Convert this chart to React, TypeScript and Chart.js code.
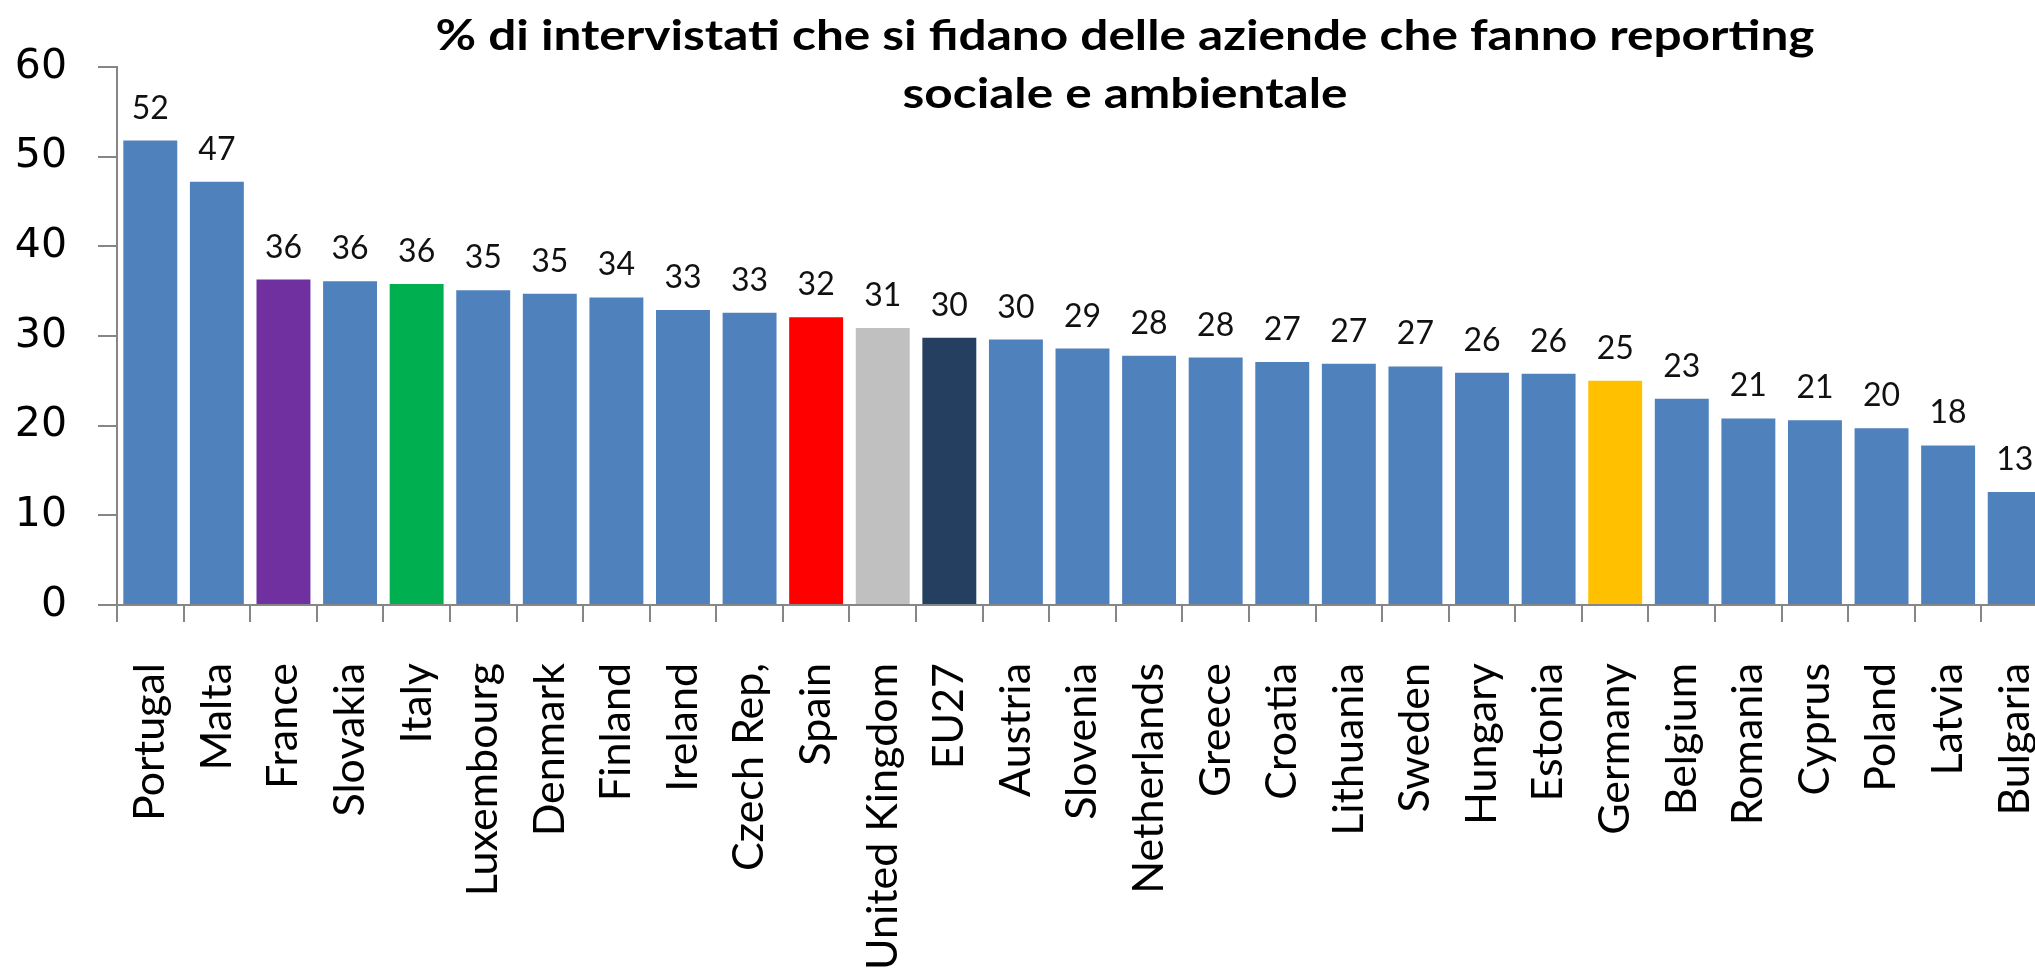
import React, { useEffect, useRef } from "react";
import { Chart, registerables } from "chart.js";

Chart.register(...registerables);

const categories = [
  "Portugal", "Malta", "France", "Slovakia", "Italy", "Luxembourg", "Denmark",
  "Finland", "Ireland", "Czech Rep,", "Spain", "United Kingdom", "EU27", "Austria",
  "Slovenia", "Netherlands", "Greece", "Croatia", "Lithuania", "Sweden", "Hungary",
  "Estonia", "Germany", "Belgium", "Romania", "Cyprus", "Poland", "Latvia", "Bulgaria",
];

const values = [
  51.8, 47.2, 36.3, 36.1, 35.8, 35.1, 34.7, 34.3, 32.9, 32.6, 32.1, 30.9, 29.8, 29.6,
  28.6, 27.8, 27.6, 27.1, 26.9, 26.6, 25.9, 25.8, 25.0, 23.0, 20.8, 20.6, 19.7, 17.8, 12.6,
];

const valueLabels = [
  "52", "47", "36", "36", "36", "35", "35", "34", "33", "33", "32", "31", "30", "30",
  "29", "28", "28", "27", "27", "27", "26", "26", "25", "23", "21", "21", "20", "18", "13",
];

const BLUE = "#4F81BD";
const highlight: Record<string, string> = {
  France: "#7030A0",
  Italy: "#00B050",
  Spain: "#FF0000",
  "United Kingdom": "#C0C0C0",
  EU27: "#243F60",
  Germany: "#FFC000",
};
const barColors = categories.map((c) => highlight[c] || BLUE);

const yTicks = [0, 10, 20, 30, 40, 50, 60];

const titleLines = [
  "% di intervistati che si fidano delle aziende che fanno reporting",
  "sociale e ambientale",
];

const AXIS = "#868686";

export default function App() {
  const ref = useRef<HTMLCanvasElement | null>(null);

  useEffect(() => {
    if (!ref.current) return;

    const titlePlugin = {
      id: "customTitle",
      afterDraw(chart: any) {
        const ctx = chart.ctx;
        ctx.save();
        ctx.fillStyle = "#000";
        ctx.font = "bold 42px Lato";
        ctx.textAlign = "center";
        ctx.textBaseline = "alphabetic";
        const cx = chart.width / 2;
        ctx.translate(cx, 0);
        ctx.scale(1.18, 1);
        ctx.fillText(titleLines[0], 0, 50);
        ctx.fillText(titleLines[1], 0, 108);
        ctx.restore();
      },
    };

    const valueLabelPlugin = {
      id: "valueLabels",
      afterDatasetsDraw(chart: any) {
        const ctx = chart.ctx;
        const meta = chart.getDatasetMeta(0);
        ctx.save();
        ctx.fillStyle = "#111";
        ctx.font = "32px Lato";
        ctx.textAlign = "center";
        ctx.textBaseline = "alphabetic";
        meta.data.forEach((bar: any, i: number) => {
          ctx.fillText(valueLabels[i], bar.x, bar.y - 22);
        });
        ctx.restore();
      },
    };

    const chart = new Chart(ref.current, {
      type: "bar",
      data: {
        labels: categories,
        datasets: [
          {
            data: values,
            backgroundColor: barColors,
            borderWidth: 0,
            categoryPercentage: 1,
            barPercentage: 0.81,
          },
        ],
      },
      options: {
        animation: false,
        responsive: false,
        devicePixelRatio: 1,
        layout: { padding: { left: 0, right: 202, top: 67, bottom: 0 } },
        plugins: {
          legend: { display: false },
          title: { display: false },
          tooltip: { enabled: false },
        },
        scales: {
          x: {
            grid: {
              display: true,
              drawOnChartArea: false,
              drawTicks: true,
              tickLength: 17,
              color: AXIS,
              lineWidth: 2,
              offset: true,
            },
            border: { display: true, color: AXIS, width: 2 },
            ticks: {
              autoSkip: false,
              maxRotation: 90,
              minRotation: 90,
              padding: 41,
              color: "#000",
              font: { family: "Lato", size: 43 },
            },
            afterFit(scale: any) {
              scale.height = 975 - 605;
            },
          },
          y: {
            min: 0,
            max: 60,
            afterBuildTicks(scale: any) {
              scale.ticks = yTicks.map((v) => ({ value: v }));
            },
            grid: {
              display: true,
              drawOnChartArea: false,
              drawTicks: true,
              tickLength: 19,
              color: AXIS,
              lineWidth: 2,
            },
            border: { display: true, color: AXIS, width: 2 },
            ticks: {
              padding: 31,
              color: "#000",
              font: { family: "DejaVu Sans", size: 41 },
            },
            afterFit(scale: any) {
              scale.width = 117;
            },
          },
        },
      },
      plugins: [titlePlugin, valueLabelPlugin],
    });

    return () => chart.destroy();
  }, []);

  return (
    <div
      style={{
        position: "absolute",
        left: 0,
        top: 0,
        width: 2035,
        height: 975,
        overflow: "hidden",
        background: "#fff",
      }}
    >
      <canvas ref={ref} width={2250} height={975} style={{ display: "block" }} />
    </div>
  );
}
